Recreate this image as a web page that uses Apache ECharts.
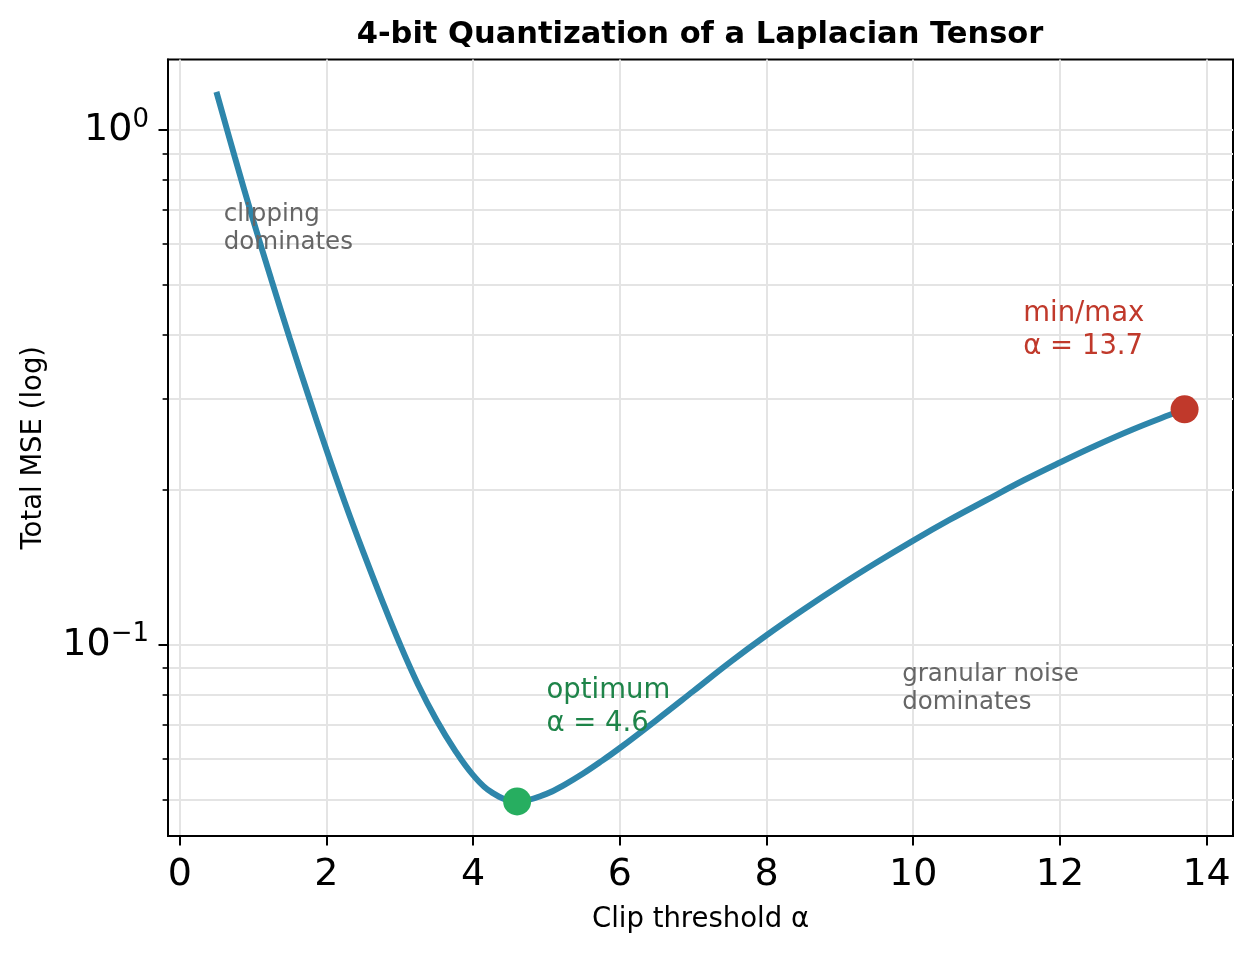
<!DOCTYPE html>
<html>
<head>
<meta charset="UTF-8">
<script src="https://cdn.jsdelivr.net/npm/echarts@6.0.0/dist/echarts.min.js"></script>
<style>
  html, body { margin: 0; padding: 0; background: #fff; }
  #chart { width: 1252px; height: 954px; }
</style>
</head>
<body>
<div id="chart"></div>
<script>
// clip threshold vs total MSE
var alphas = [0.5, 0.75, 1.0, 1.25, 1.5, 1.75, 2.0, 2.25, 2.5, 2.75, 3.0, 3.25, 3.5, 3.75, 4.0, 4.25, 4.6,
              5.0, 5.25, 5.5, 5.75, 6.0, 6.5, 7.0, 7.5, 8.0, 8.5, 9.0, 9.5, 10.0, 10.5,
              11.0, 11.5, 12.0, 12.5, 13.0, 13.5, 13.7];
var mse = [1.185, 0.8862, 0.6688, 0.5114, 0.3937, 0.3058, 0.2391, 0.1891, 0.1516, 0.1228, 0.1004, 0.0836, 0.0714, 0.0624, 0.0558, 0.0517, 0.0496,
           0.0513, 0.0535, 0.0562, 0.0594, 0.0630, 0.0714, 0.0812, 0.0924, 0.1043, 0.1169, 0.1303, 0.1444, 0.1593, 0.1749,
           0.1910, 0.2084, 0.2259, 0.2440, 0.2621, 0.2796, 0.2865];

var optimum = [4.6, 0.0496];
var minmax = [13.7, 0.2865];

var xTicks = [0, 2, 4, 6, 8, 10, 12, 14];
var yMajor = [0.1, 1];
var yMinor = [0.05, 0.06, 0.07, 0.08, 0.09, 0.2, 0.3, 0.4, 0.5, 0.6, 0.7, 0.8, 0.9];

// annotation texts: x, y (top-left), text, colour, size, line height
var notes = [
  [0.6, 0.730, 'clipping\ndominates', '#666666', 24.5, 28],
  [9.85, 0.093, 'granular noise\ndominates', '#666666', 24.5, 28],
  [5.0, 0.0874, 'optimum\nα = 4.6', '#1E8449', 27.5, 33],
  [11.5, 0.4733, 'min/max\nα = 13.7', '#C0392B', 27.5, 33]
];

var font = 'DejaVu Sans';
var gridColor = '#e4e4e4';

var curve = alphas.map(function (a, i) { return [a, mse[i]]; });

function supLabel(v) {
  var e = Math.round(Math.log10(v));
  var s = e < 0 ? '\u2212' + (-e) : String(e);
  return '{b|10}{s|' + s + '}';
}

var chart = echarts.init(document.getElementById('chart'));
var option = {
  animation: false,
  backgroundColor: '#fff',
  title: {
    text: '4-bit Quantization of a Laplacian Tensor',
    left: 695,
    top: 15,
    textAlign: 'center',
    textStyle: { fontFamily: font, fontSize: 30.5, fontWeight: 'bold', color: '#000' }
  },
  grid: {
    left: 168, right: 19, top: 59.5, bottom: 118,
    show: true, borderColor: '#000', borderWidth: 2, backgroundColor: 'transparent'
  },
  xAxis: {
    type: 'value',
    min: -0.16,
    max: 14.36,
    name: 'Clip threshold α',
    nameLocation: 'middle',
    nameGap: 70,
    nameTextStyle: { fontFamily: font, fontSize: 27.5, color: '#000' },
    axisLine: { show: true, onZero: false, lineStyle: { color: '#000', width: 2 } },
    axisTick: { show: true, customValues: xTicks, length: 9.5, lineStyle: { color: '#000', width: 2 } },
    axisLabel: { customValues: xTicks, margin: 20, fontFamily: font, fontSize: 38, color: '#000' },
    splitLine: { show: true, lineStyle: { color: gridColor, width: 2 } }
  },
  yAxis: [{
    type: 'log',
    min: 0.0425,
    max: 1.37,
    position: 'left',
    name: 'Total MSE (log)',
    nameLocation: 'middle',
    nameGap: 120,
    nameRotate: 90,
    nameTextStyle: { fontFamily: font, fontSize: 27.5, color: '#000' },
    axisLine: { show: true, onZero: false, lineStyle: { color: '#000', width: 2 } },
    axisTick: { show: true, customValues: yMajor, length: 9.5, lineStyle: { color: '#000', width: 2 } },
    axisLabel: {
      customValues: yMajor,
      margin: 19,
      formatter: supLabel,
      rich: {
        b: { fontFamily: font, fontSize: 38, color: '#000', lineHeight: 46 },
        s: { fontFamily: font, fontSize: 26, color: '#000', verticalAlign: 'top', lineHeight: 46 }
      }
    },
    splitLine: { show: true, lineStyle: { color: gridColor, width: 2 } }
  }, {
    type: 'log',
    min: 0.0425,
    max: 1.37,
    position: 'left',
    offset: 0,
    axisLine: { show: false, onZero: false },
    axisTick: { show: true, customValues: yMinor, length: 5.4, lineStyle: { color: '#000', width: 1.6 } },
    axisLabel: { show: false },
    splitLine: { show: true, lineStyle: { color: gridColor, width: 2 } }
  }],
  series: [{
    type: 'line',
    data: curve,
    smooth: 0.4,
    showSymbol: false,
    z: 3,
    lineStyle: { color: '#2E86AB', width: 6 }
  }, {
    type: 'scatter',
    data: [optimum],
    symbolSize: 28,
    z: 4,
    itemStyle: { color: '#27AE60', opacity: 1 }
  }, {
    type: 'scatter',
    data: [minmax],
    symbolSize: 28,
    z: 4,
    itemStyle: { color: '#C0392B', opacity: 1 }
  }, {
    type: 'scatter',
    symbolSize: 0,
    z: 5,
    silent: true,
    itemStyle: { opacity: 1 },
    data: notes.map(function (n) {
      return {
        value: [n[0], n[1]],
        label: {
          show: true,
          formatter: n[2],
          position: [0, 0],
          align: 'left',
          verticalAlign: 'top',
          fontFamily: font,
          fontSize: n[4],
          lineHeight: n[5],
          color: n[3],
          opacity: 1
        }
      };
    })
  }]
};
chart.setOption(option);
</script>
</body>
</html>
